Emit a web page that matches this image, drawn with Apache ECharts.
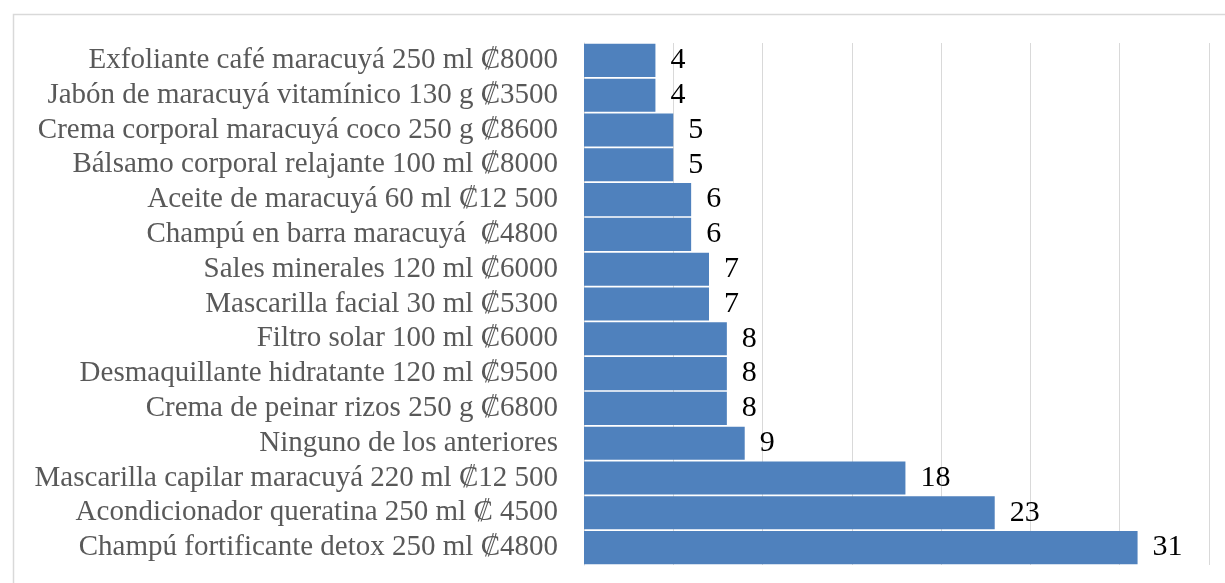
<!DOCTYPE html>
<html><head><meta charset="utf-8">
<script src="https://cdn.jsdelivr.net/npm/echarts@6/dist/echarts.min.js"></script>
<style>html,body{margin:0;padding:0;background:#fff}#c{width:1225px;height:583px}</style>
</head><body><div id="c"></div>
<script>
const categories = [
  "Exfoliante café maracuyá 250 ml ₡8000",
  "Jabón de maracuyá vitamínico 130 g ₡3500",
  "Crema corporal maracuyá coco 250 g ₡8600",
  "Bálsamo corporal relajante 100 ml ₡8000",
  "Aceite de maracuyá 60 ml ₡12 500",
  "Champú en barra maracuyá  ₡4800",
  "Sales minerales 120 ml ₡6000",
  "Mascarilla facial 30 ml ₡5300",
  "Filtro solar 100 ml ₡6000",
  "Desmaquillante hidratante 120 ml ₡9500",
  "Crema de peinar rizos 250 g ₡6800",
  "Ninguno de los anteriores",
  "Mascarilla capilar maracuyá 220 ml ₡12 500",
  "Acondicionador queratina 250 ml ₡ 4500",
  "Champú fortificante detox 250 ml ₡4800"
];
const values = [4, 4, 5, 5, 6, 6, 7, 7, 8, 8, 8, 9, 18, 23, 31];

const chart = echarts.init(document.getElementById('c'));
chart.setOption({
  animation: false,
  backgroundColor: '#fff',
  graphic: [{
    type: 'rect', left: 11, top: 12, shape: { width: 1240, height: 600 },
    style: { fill: 'none', stroke: '#d9d9d9', lineWidth: 1.5 }, silent: true
  }],
  grid: { left: 584, right: 16, top: 43, bottom: 18, containLabel: false },
  xAxis: {
    type: 'value', min: 0, max: 35, interval: 5,
    axisLabel: { show: false }, axisTick: { show: false }, axisLine: { show: false },
    splitLine: { show: true, lineStyle: { color: '#d9d9d9', width: 1 } }
  },
  yAxis: {
    type: 'category', data: categories, inverse: true,
    axisTick: { show: false },
    axisLine: { show: true, lineStyle: { color: '#d9d9d9' } },
    axisLabel: { interval: 0, color: '#595959', fontFamily: 'Liberation Serif', fontSize: 29, margin: 26 }
  },
  series: [{
    type: 'bar', data: values, barCategoryGap: '5%',
    itemStyle: { color: '#4f81bd' },
    label: { show: true, position: 'right', distance: 15, color: '#000',
      fontFamily: 'Liberation Serif', fontSize: 30 }
  }]
});
</script></body></html>
